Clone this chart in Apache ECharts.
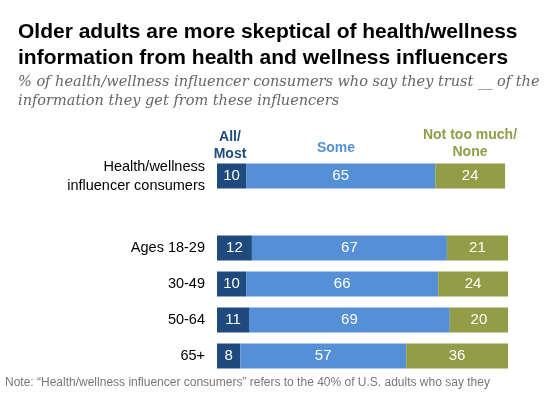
<!DOCTYPE html><html><head><meta charset="utf-8"><script src="https://cdn.jsdelivr.net/npm/echarts@6/dist/echarts.min.js"></script>
<style>body{margin:0;background:#fff}#c{width:560px;height:415px}</style></head><body><div id="c"></div><script>
const categories=["Health/wellness\ninfluencer consumers","","Ages 18-29","30-49","50-64","65+"];
const allMost=[10,null,12,10,11,8];
const some=[65,null,67,66,69,57];
const notMuch=[24,null,21,24,20,36];
const ch=echarts.init(document.getElementById('c'));
const lbl={show:true,position:'inside',color:'#fff',fontSize:15,fontFamily:'Liberation Sans'};
function s(name,data,color){return {name,type:'bar',stack:'a',data,barWidth:25,itemStyle:{color},label:lbl};}
ch.setOption({
animation:false,
grid:{left:217,right:52,top:158,bottom:41},
xAxis:{type:'value',min:0,max:100,show:false},
yAxis:{type:'category',inverse:true,data:categories,axisLine:{show:false},axisTick:{show:false},
 axisLabel:{color:'#000',fontSize:14.5,fontFamily:'Liberation Sans',lineHeight:19,margin:12}},
series:[s('All/Most',allMost,'#1f4a7e'),s('Some',some,'#5590d6'),s('Not',notMuch,'#939c47')],
graphic:[
 {type:'text',left:18,top:19,style:{text:'Older adults are more skeptical of health/wellness\ninformation from health and wellness influencers',font:'bold 21px Liberation Sans',fill:'#000',lineHeight:26}},
 {type:'text',left:18,top:73,style:{text:'% of health/wellness influencer consumers who say they trust __ of the\ninformation they get from these influencers',font:'italic 14.5px DejaVu Serif',fill:'#666',lineHeight:19}},
 {type:'text',x:230,y:129,style:{text:'All/\nMost',font:'bold 14px Liberation Sans',fill:'#1f4a7e',align:'center',lineHeight:17}},
 {type:'text',x:336,y:141,style:{text:'Some',font:'bold 14px Liberation Sans',fill:'#5590d6',align:'center'}},
 {type:'text',x:470,y:127,style:{text:'Not too much/\nNone',font:'bold 14px Liberation Sans',fill:'#939c47',align:'center',lineHeight:17}},
 {type:'text',left:5,top:377,style:{text:'Note: \u201cHealth/wellness influencer consumers\u201d refers to the 40% of U.S. adults who say they',font:'12px Liberation Sans',fill:'#777'}}
]});
</script></body></html>
